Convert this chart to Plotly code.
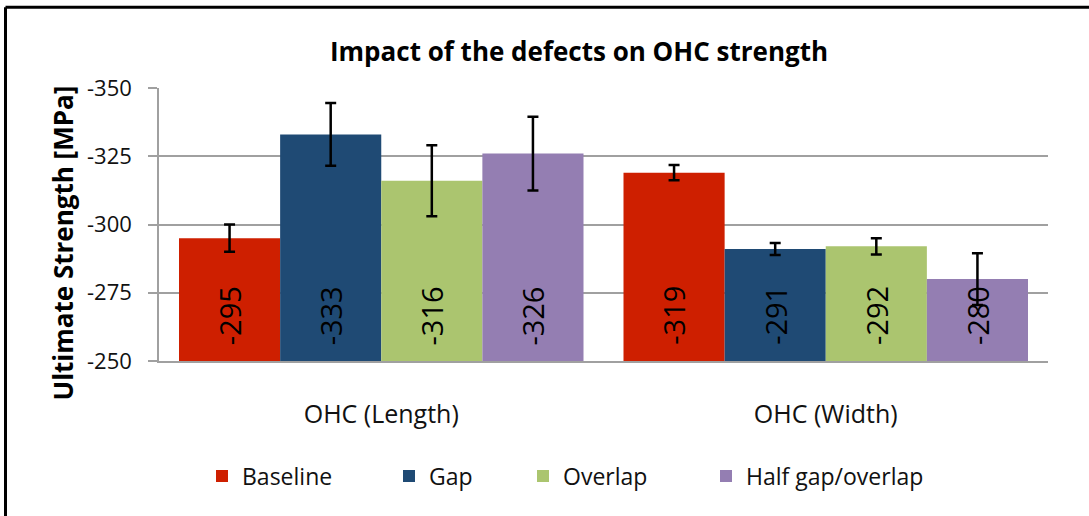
import plotly.graph_objects as go

# ---------------- data ----------------
categories = ["OHC (Length)", "OHC (Width)"]
series_names = ["Baseline", "Gap", "Overlap", "Half gap/overlap"]
baseline = [-295, -319]
gap = [-333, -291]
overlap = [-316, -292]
half_gap_overlap = [-326, -280]
baseline_err = [5.0, 2.8]
gap_err = [11.5, 2.2]
overlap_err = [13.0, 3.0]
half_gap_overlap_err = [13.5, 9.5]
y_tick_values = [-350, -325, -300, -275, -250]
y_tick_labels = ["-350", "-325", "-300", "-275", "-250"]

series_values = [baseline, gap, overlap, half_gap_overlap]
series_errors = [baseline_err, gap_err, overlap_err, half_gap_overlap_err]
colors = ["#CE1F00", "#1F4A74", "#ABC56F", "#947EB2"]

FONT = "Open Sans"
W, H = 1089, 516
ML, MR, MT, MB = 159, 41, 88, 155
BARGAP = 0.09
n_series = len(series_names)
bar_w = (1 - BARGAP) / n_series
label_value = -266.6  # data-label centre position on the value axis

fig = go.Figure()
legend_ids = ["legend", "legend2", "legend3", "legend4"]
for k, (name, vals, errs, col) in enumerate(zip(series_names, series_values, series_errors, colors)):
    fig.add_trace(go.Bar(
        name=name,
        x=list(range(len(categories))),
        y=vals,
        marker=dict(color=col, line=dict(width=0)),
        error_y=dict(type="data", array=errs, visible=True, color="black",
                     thickness=2.5, width=5.5),
        legend=legend_ids[k],
        hoverinfo="skip",
    ))

annotations = []
for k, vals in enumerate(series_values):
    for i, v in enumerate(vals):
        annotations.append(dict(
            x=i + (k - (n_series - 1) / 2) * bar_w, y=label_value,
            xref="x", yref="y", text=f"{v:.0f}", showarrow=False,
            textangle=-90, xanchor="center", yanchor="middle",
            font=dict(family=FONT, size=29, color="black"),
        ))

pw = W - ML - MR
ph = H - MT - MB

# y-axis title as annotation (positioned like reference)
annotations.append(dict(
    x=(62 - ML) / pw, y=(H - MB - 243.5) / ph,
    xref="paper", yref="paper", text="<b>Ultimate Strength [MPa]</b>",
    showarrow=False, textangle=-90, xanchor="center", yanchor="middle",
    font=dict(family=FONT, size=26, color="black"),
))

# legends, one per series, placed like the reference
legend_square_left = [216, 403, 537, 720]
legend_layouts = {}
for k, lid in enumerate(legend_ids):
    legend_layouts[lid] = dict(
        x=(legend_square_left[k] - 14) / W, xref="container", xanchor="left",
        y=1 - 476 / H, yref="container", yanchor="middle",
        orientation="h", bgcolor="rgba(0,0,0,0)",
        font=dict(family=FONT, size=23, color="#111"),
    )

shapes = [
    dict(type="line", xref="paper", yref="paper",
         x0=(5.5 - ML) / pw, x1=(1100 - ML) / pw,
         y0=(H - MB - 7.3) / ph, y1=(H - MB - 7.3) / ph,
         line=dict(color="black", width=3)),
    dict(type="line", xref="paper", yref="paper",
         x0=(5.5 - ML) / pw, x1=(5.5 - ML) / pw,
         y0=(H - MB - 7.3) / ph, y1=(H - MB - 530) / ph,
         line=dict(color="black", width=3)),
]

fig.update_layout(
    width=W, height=H,
    margin=dict(l=ML, r=MR, t=MT, b=MB),
    paper_bgcolor="white", plot_bgcolor="white",
    barmode="group", bargap=BARGAP, bargroupgap=0,
    title=dict(text="<b>Impact of the defects on OHC strength</b>",
               x=579 / W, xref="container", xanchor="center",
               y=1 - 52 / H, yref="container", yanchor="middle",
               font=dict(family=FONT, size=26, color="black")),
    xaxis=dict(range=[-0.5, len(categories) - 0.5],
               tickvals=list(range(len(categories))), ticktext=categories,
               showgrid=False, zeroline=False, showline=True,
               linecolor="#A0A0A0", linewidth=1.5, ticks="",
               ticklabelstandoff=30,
               tickfont=dict(family=FONT, size=25, color="#111")),
    yaxis=dict(range=[-250, -350], tickvals=y_tick_values, ticktext=y_tick_labels,
               showgrid=True, gridcolor="#A0A0A0", gridwidth=1.5,
               zeroline=False, showline=True, linecolor="#A0A0A0", linewidth=1.5,
               ticks="outside", ticklen=9, tickwidth=1.5, tickcolor="#A0A0A0",
               ticklabelstandoff=12,
               tickfont=dict(family=FONT, size=22, color="#111")),
    annotations=annotations,
    shapes=shapes,
    showlegend=True,
    **legend_layouts,
)

fig.write_html(
    "out.html",
    config={"displayModeBar": False},
    post_script="document.body.style.margin='0';document.body.style.overflow='hidden';",
)
